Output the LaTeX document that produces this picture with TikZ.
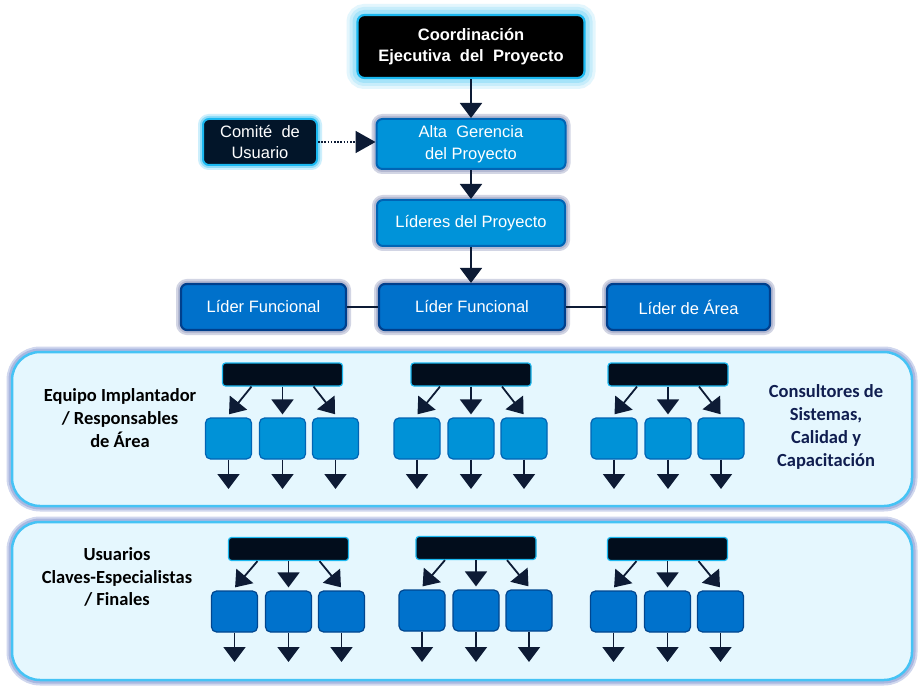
\documentclass[tikz,border=0pt]{standalone}
\usepackage{fontspec}
\setmainfont{Liberation Sans}
\newfontfamily\calib{Carlito}
\usetikzlibrary{arrows.meta}
\definecolor{navy}{HTML}{0D1B35}
\definecolor{cyanb}{HTML}{1AB8F0}
\definecolor{glowc}{HTML}{8FDCF8}
\definecolor{comfill}{HTML}{021529}
\definecolor{altafill}{HTML}{0093D9}
\definecolor{altaborder}{HTML}{0064B4}
\definecolor{greyglow}{HTML}{B4B9D2}
\definecolor{liderfill}{HTML}{0071CB}
\definecolor{liderborder}{HTML}{003F8C}
\definecolor{panelfill}{HTML}{E5F7FE}
\definecolor{panelborder}{HTML}{45C3F5}
\definecolor{panelglow}{HTML}{A9B7E0}
\definecolor{sbfillA}{HTML}{0092D7}
\definecolor{sbborderA}{HTML}{0064B4}
\definecolor{sbfillB}{HTML}{0072CC}
\definecolor{sbborderB}{HTML}{00468F}
\definecolor{barfill}{HTML}{020D1C}
\definecolor{rtext}{HTML}{101E50}
\tikzset{
  conn/.style={draw=navy, line width=1.8pt, -{Triangle[width=22pt,length=15pt]}},
  plain/.style={draw=navy, line width=2pt},
  boxtext/.style={text=white, align=center, inner sep=0pt, font=\fontsize{16.5}{21.5}\selectfont},
  coordbox/.style={boxtext, rounded corners=7pt, fill=black, draw=cyanb, line width=2.2pt,
    preaction={draw=glowc!25, line width=22pt},
    preaction={draw=glowc!50, line width=16pt},
    preaction={draw=glowc!80, line width=10pt},
    font=\bfseries\fontsize{16.5}{21.5}\selectfont},
  combox/.style={boxtext, rounded corners=6pt, fill=comfill, draw=cyanb, line width=2pt,
    preaction={draw=glowc!45, line width=10pt}, preaction={draw=glowc, line width=6pt}},
  altabox/.style={boxtext, rounded corners=6pt, fill=altafill, draw=altaborder, line width=2pt,
    preaction={draw=greyglow!60, line width=10pt}, preaction={draw=greyglow, line width=6pt}},
  liderbox/.style={boxtext, rounded corners=6pt, fill=liderfill, draw=liderborder, line width=2.2pt,
    preaction={draw=greyglow!60, line width=10pt}, preaction={draw=greyglow, line width=6pt}},
  panel/.style={rounded corners=28pt, fill=panelfill, draw=panelborder, line width=2.5pt,
    preaction={draw=panelglow!55, line width=11pt}, preaction={draw=panelglow, line width=7pt}},
  ptext/.style={align=center, inner sep=0pt, font=\calib\bfseries\fontsize{18.5}{22.7}\selectfont},
  bar/.style={rounded corners=3pt, fill=barfill, draw=cyanb, line width=1.2pt,
    minimum width=120pt, minimum height=23pt, inner sep=0pt},
  sboxA/.style={rounded corners=5pt, fill=sbfillA, draw=sbborderA, line width=1.2pt,
    minimum width=46pt, minimum height=41pt, inner sep=0pt},
  sboxB/.style={rounded corners=5pt, fill=sbfillB, draw=sbborderB, line width=1.2pt,
    minimum width=46pt, minimum height=41pt, inner sep=0pt},
}
% #1 id, #2 cx, #3 bar y, #4 box y, #5 down tip y, #6 box style
\newcommand\mkgroup[6]{%
  \node[bar] (#1bar) at (#2,#3) {};
  \node[#6] (#1b1) at (#2-54,#4) {};
  \node[#6] (#1b2) at (#2,#4) {};
  \node[#6] (#1b3) at (#2+53,#4) {};
  \coordinate (#1d1) at (#2-54,#5);
  \coordinate (#1d2) at (#2,#5);
  \coordinate (#1d3) at (#2+53,#5);
  \draw[conn, shorten >=4pt] ([xshift=-31pt]#1bar.south) -- ([xshift=-2pt]#1b1.north);
  \draw[conn, shorten >=3pt] (#1bar.south) -- (#1b2.north);
  \draw[conn, shorten >=4pt] ([xshift=31pt]#1bar.south) -- ([xshift=2pt]#1b3.north);
  \draw[conn] (#1b1.south) -- (#1d1);
  \draw[conn] (#1b2.south) -- (#1d2);
  \draw[conn] (#1b3.south) -- (#1d3);
}
\begin{document}
\begin{tikzpicture}[x=1pt,y=-1pt]
\useasboundingbox (0,0) rectangle (924,695);
\fill[white] (0,0) rectangle (924,695);

% top hierarchy
\node[coordbox, minimum width=227pt, minimum height=63pt] (coord) at (471,46.5)
  {Coordinación\\Ejecutiva\ \ del\ \ Proyecto};
\node[altabox, minimum width=189pt, minimum height=50pt] (alta) at (471,144)
  {Alta\ \ Gerencia\\del Proyecto};
\node[combox, minimum width=114pt, minimum height=46pt] (com) at (260,142)
  {Comité\ \ de\\Usuario};
\node[altabox, minimum width=188pt, minimum height=46pt] (lideres) at (471,223)
  {Líderes del Proyecto};
\node[liderbox, minimum width=165pt, minimum height=46pt] (lf1) at (263.5,307) {Líder Funcional};
\node[liderbox, minimum width=186pt, minimum height=46pt] (lf2) at (472,307) {Líder Funcional};
\node[liderbox, minimum width=163pt, minimum height=46pt] (la) at (688.5,307) {Líder de Área};

\draw[conn] (coord.south) -- (alta.north);
\draw[conn] (alta.south) -- (lideres.north);
\draw[conn] (lideres.south) -- (lideres.south |- lf2.north);
\draw[draw=navy, line width=1.8pt, dash pattern=on 1.6pt off 1.6pt, -{Triangle[width=22pt,length=20pt]}]
  (com.east) -- (com.east -| alta.west);
\draw[plain] (lf1.east) -- (lf2.west);
\draw[plain] (lf2.east) -- (la.west);

% panels
\node[panel, minimum width=900pt, minimum height=154pt] (p1) at (462,429) {};
\node[panel, minimum width=900pt, minimum height=158pt] (p2) at (462,601) {};

\node[ptext] (t1) at (120,418) {Equipo Implantador\\/ Responsables\\de Área};
\node[ptext, text=rtext] (t2) at (826,427) {Consultores de\\Sistemas,\\Calidad y\\Capacitación};
\node[ptext] (t3) at (117,577) {Usuarios\\Claves-Especialistas\\/ Finales};

\mkgroup{ga}{282.5}{374.5}{438.5}{489}{sboxA}
\mkgroup{gb}{471}{374.5}{438.5}{489}{sboxA}
\mkgroup{gc}{668}{374.5}{438.5}{489}{sboxA}

\mkgroup{gd}{288.5}{549}{611.5}{662}{sboxB}
\mkgroup{ge}{476}{548}{610.5}{662}{sboxB}
\mkgroup{gf}{667.5}{549}{611.5}{662}{sboxB}
\end{tikzpicture}
\end{document}
